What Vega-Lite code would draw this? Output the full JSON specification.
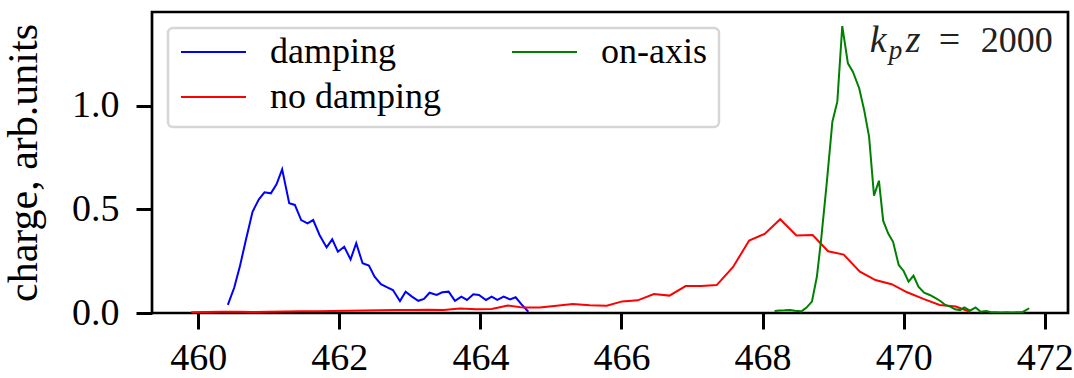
{
  "$schema": "https://vega.github.io/schema/vega-lite/v6.json",
  "width": 916,
  "height": 301,
  "autosize": {"type": "none"},
  "padding": {"left": 152, "top": 12, "right": 6, "bottom": 65},
  "background": "white",
  "config": {
    "view": {"stroke": "black", "strokeWidth": 2.7},
    "font": "Liberation Serif",
    "axis": {
      "domain": false,
      "grid": false,
      "tickColor": "black",
      "tickSize": 16,
      "tickWidth": 3,
      "labelFont": "Liberation Serif",
      "labelFontSize": 38,
      "labelColor": "black",
      "titleFont": "Liberation Serif",
      "titleFontSize": 42,
      "titleFontWeight": "normal",
      "titleColor": "black"
    },
    "legend": {
      "orient": "none",
      "legendX": 16,
      "legendY": 16,
      "columns": 2,
      "symbolType": "stroke",
      "symbolSize": 4225,
      "symbolStrokeWidth": 2,
      "clipHeight": 24,
      "rowPadding": 9,
      "columnPadding": 70,
      "labelFont": "Liberation Serif",
      "labelFontSize": 36,
      "labelColor": "black",
      "labelOffset": 23,
      "labelLimit": 400,
      "padding": 12,
      "fillColor": "white",
      "strokeColor": "#d6d6d6",
      "strokeWidth": 2.5,
      "cornerRadius": 5
    }
  },
  "datasets": {
    "charge": [
      {"series": "damping", "x": 460.42, "y": 0.039},
      {"series": "damping", "x": 460.51, "y": 0.122},
      {"series": "damping", "x": 460.59, "y": 0.224},
      {"series": "damping", "x": 460.67, "y": 0.344},
      {"series": "damping", "x": 460.77, "y": 0.489},
      {"series": "damping", "x": 460.86, "y": 0.549},
      {"series": "damping", "x": 460.94, "y": 0.583},
      {"series": "damping", "x": 461.03, "y": 0.578},
      {"series": "damping", "x": 461.11, "y": 0.622},
      {"series": "damping", "x": 461.19, "y": 0.694},
      {"series": "damping", "x": 461.29, "y": 0.530},
      {"series": "damping", "x": 461.37, "y": 0.522},
      {"series": "damping", "x": 461.46, "y": 0.449},
      {"series": "damping", "x": 461.55, "y": 0.433},
      {"series": "damping", "x": 461.63, "y": 0.449},
      {"series": "damping", "x": 461.72, "y": 0.377},
      {"series": "damping", "x": 461.82, "y": 0.317},
      {"series": "damping", "x": 461.90, "y": 0.356},
      {"series": "damping", "x": 461.98, "y": 0.296},
      {"series": "damping", "x": 462.07, "y": 0.320},
      {"series": "damping", "x": 462.16, "y": 0.259},
      {"series": "damping", "x": 462.24, "y": 0.337},
      {"series": "damping", "x": 462.33, "y": 0.240},
      {"series": "damping", "x": 462.42, "y": 0.229},
      {"series": "damping", "x": 462.50, "y": 0.175},
      {"series": "damping", "x": 462.59, "y": 0.139},
      {"series": "damping", "x": 462.68, "y": 0.124},
      {"series": "damping", "x": 462.76, "y": 0.111},
      {"series": "damping", "x": 462.86, "y": 0.058},
      {"series": "damping", "x": 462.94, "y": 0.103},
      {"series": "damping", "x": 463.03, "y": 0.079},
      {"series": "damping", "x": 463.12, "y": 0.059},
      {"series": "damping", "x": 463.20, "y": 0.068},
      {"series": "damping", "x": 463.28, "y": 0.098},
      {"series": "damping", "x": 463.38, "y": 0.087},
      {"series": "damping", "x": 463.46, "y": 0.100},
      {"series": "damping", "x": 463.55, "y": 0.103},
      {"series": "damping", "x": 463.64, "y": 0.059},
      {"series": "damping", "x": 463.73, "y": 0.079},
      {"series": "damping", "x": 463.81, "y": 0.063},
      {"series": "damping", "x": 463.90, "y": 0.090},
      {"series": "damping", "x": 463.98, "y": 0.087},
      {"series": "damping", "x": 464.08, "y": 0.063},
      {"series": "damping", "x": 464.16, "y": 0.079},
      {"series": "damping", "x": 464.24, "y": 0.063},
      {"series": "damping", "x": 464.33, "y": 0.079},
      {"series": "damping", "x": 464.42, "y": 0.066},
      {"series": "damping", "x": 464.50, "y": 0.076},
      {"series": "damping", "x": 464.58, "y": 0.043},
      {"series": "damping", "x": 464.68, "y": 0.006},

      {"series": "no damping", "x": 459.90, "y": 0.004},
      {"series": "no damping", "x": 460.10, "y": 0.005},
      {"series": "no damping", "x": 460.33, "y": 0.006},
      {"series": "no damping", "x": 460.55, "y": 0.006},
      {"series": "no damping", "x": 460.78, "y": 0.005},
      {"series": "no damping", "x": 461.00, "y": 0.006},
      {"series": "no damping", "x": 461.23, "y": 0.007},
      {"series": "no damping", "x": 461.45, "y": 0.008},
      {"series": "no damping", "x": 461.68, "y": 0.008},
      {"series": "no damping", "x": 461.91, "y": 0.010},
      {"series": "no damping", "x": 462.13, "y": 0.011},
      {"series": "no damping", "x": 462.36, "y": 0.012},
      {"series": "no damping", "x": 462.58, "y": 0.013},
      {"series": "no damping", "x": 462.81, "y": 0.014},
      {"series": "no damping", "x": 463.03, "y": 0.014},
      {"series": "no damping", "x": 463.26, "y": 0.016},
      {"series": "no damping", "x": 463.48, "y": 0.015},
      {"series": "no damping", "x": 463.71, "y": 0.022},
      {"series": "no damping", "x": 463.94, "y": 0.018},
      {"series": "no damping", "x": 464.16, "y": 0.019},
      {"series": "no damping", "x": 464.39, "y": 0.036},
      {"series": "no damping", "x": 464.61, "y": 0.026},
      {"series": "no damping", "x": 464.84, "y": 0.027},
      {"series": "no damping", "x": 465.08, "y": 0.035},
      {"series": "no damping", "x": 465.31, "y": 0.043},
      {"series": "no damping", "x": 465.55, "y": 0.037},
      {"series": "no damping", "x": 465.79, "y": 0.035},
      {"series": "no damping", "x": 466.01, "y": 0.056},
      {"series": "no damping", "x": 466.23, "y": 0.061},
      {"series": "no damping", "x": 466.46, "y": 0.092},
      {"series": "no damping", "x": 466.68, "y": 0.084},
      {"series": "no damping", "x": 466.91, "y": 0.130},
      {"series": "no damping", "x": 467.13, "y": 0.130},
      {"series": "no damping", "x": 467.35, "y": 0.135},
      {"series": "no damping", "x": 467.58, "y": 0.221},
      {"series": "no damping", "x": 467.81, "y": 0.350},
      {"series": "no damping", "x": 468.03, "y": 0.382},
      {"series": "no damping", "x": 468.25, "y": 0.453},
      {"series": "no damping", "x": 468.48, "y": 0.374},
      {"series": "no damping", "x": 468.71, "y": 0.377},
      {"series": "no damping", "x": 468.93, "y": 0.298},
      {"series": "no damping", "x": 469.15, "y": 0.282},
      {"series": "no damping", "x": 469.38, "y": 0.200},
      {"series": "no damping", "x": 469.60, "y": 0.159},
      {"series": "no damping", "x": 469.83, "y": 0.139},
      {"series": "no damping", "x": 470.05, "y": 0.100},
      {"series": "no damping", "x": 470.28, "y": 0.068},
      {"series": "no damping", "x": 470.51, "y": 0.039},
      {"series": "no damping", "x": 470.74, "y": 0.031},
      {"series": "no damping", "x": 470.94, "y": 0.006},

      {"series": "on-axis", "x": 468.17, "y": 0.010},
      {"series": "on-axis", "x": 468.24, "y": 0.012},
      {"series": "on-axis", "x": 468.31, "y": 0.013},
      {"series": "on-axis", "x": 468.39, "y": 0.015},
      {"series": "on-axis", "x": 468.46, "y": 0.011},
      {"series": "on-axis", "x": 468.55, "y": 0.008},
      {"series": "on-axis", "x": 468.62, "y": 0.025},
      {"series": "on-axis", "x": 468.70, "y": 0.055},
      {"series": "on-axis", "x": 468.77, "y": 0.175},
      {"series": "on-axis", "x": 468.83, "y": 0.353},
      {"series": "on-axis", "x": 468.91, "y": 0.627},
      {"series": "on-axis", "x": 468.99, "y": 0.924},
      {"series": "on-axis", "x": 469.06, "y": 1.021},
      {"series": "on-axis", "x": 469.13, "y": 1.386},
      {"series": "on-axis", "x": 469.21, "y": 1.206},
      {"series": "on-axis", "x": 469.28, "y": 1.166},
      {"series": "on-axis", "x": 469.37, "y": 1.086},
      {"series": "on-axis", "x": 469.44, "y": 0.981},
      {"series": "on-axis", "x": 469.51, "y": 0.852},
      {"series": "on-axis", "x": 469.58, "y": 0.567},
      {"series": "on-axis", "x": 469.65, "y": 0.639},
      {"series": "on-axis", "x": 469.71, "y": 0.446},
      {"series": "on-axis", "x": 469.78, "y": 0.385},
      {"series": "on-axis", "x": 469.85, "y": 0.344},
      {"series": "on-axis", "x": 469.93, "y": 0.232},
      {"series": "on-axis", "x": 470.00, "y": 0.203},
      {"series": "on-axis", "x": 470.07, "y": 0.151},
      {"series": "on-axis", "x": 470.14, "y": 0.180},
      {"series": "on-axis", "x": 470.21, "y": 0.127},
      {"series": "on-axis", "x": 470.29, "y": 0.098},
      {"series": "on-axis", "x": 470.37, "y": 0.087},
      {"series": "on-axis", "x": 470.44, "y": 0.074},
      {"series": "on-axis", "x": 470.52, "y": 0.058},
      {"series": "on-axis", "x": 470.59, "y": 0.039},
      {"series": "on-axis", "x": 470.66, "y": 0.031},
      {"series": "on-axis", "x": 470.73, "y": 0.018},
      {"series": "on-axis", "x": 470.80, "y": 0.014},
      {"series": "on-axis", "x": 470.86, "y": 0.027},
      {"series": "on-axis", "x": 470.94, "y": 0.011},
      {"series": "on-axis", "x": 471.02, "y": 0.027},
      {"series": "on-axis", "x": 471.09, "y": 0.006},
      {"series": "on-axis", "x": 471.17, "y": 0.010},
      {"series": "on-axis", "x": 471.24, "y": 0.004},
      {"series": "on-axis", "x": 471.31, "y": 0.004},
      {"series": "on-axis", "x": 471.39, "y": 0.003},
      {"series": "on-axis", "x": 471.46, "y": 0.004},
      {"series": "on-axis", "x": 471.54, "y": 0.003},
      {"series": "on-axis", "x": 471.61, "y": 0.004},
      {"series": "on-axis", "x": 471.69, "y": 0.005},
      {"series": "on-axis", "x": 471.78, "y": 0.023}
    ],
    "note": [{"kpz": 2000}]
  },
  "layer": [
    {
      "data": {"name": "charge"},
      "mark": {"type": "line", "strokeWidth": 2, "clip": true},
      "encoding": {
        "x": {
          "field": "x",
          "type": "quantitative",
          "scale": {"domain": [459.345, 472.33], "nice": false, "zero": false},
          "axis": {"values": [460, 462, 464, 466, 468, 470, 472], "format": "d", "title": null, "labelPadding": 10}
        },
        "y": {
          "field": "y",
          "type": "quantitative",
          "scale": {"domain": [0, 1.454], "nice": false},
          "axis": {"values": [0, 0.5, 1.0], "format": ".1f", "title": "charge, arb.units", "labelPadding": 17, "titlePadding": 26}
        },
        "color": {
          "field": "series",
          "type": "nominal",
          "scale": {"domain": ["damping", "no damping", "on-axis"], "range": ["#0000ff", "#ff0000", "#008000"]},
          "legend": {"title": null}
        }
      }
    },
    {
      "data": {"name": "note"},
      "layer": [
        {
          "mark": {"type": "text", "text": "k", "fontStyle": "italic", "fontSize": 38, "align": "left", "baseline": "alphabetic", "color": "#222222"}
        },
        {
          "mark": {"type": "text", "text": "p", "fontStyle": "italic", "fontSize": 27, "align": "left", "baseline": "alphabetic", "dx": 19, "dy": 7, "color": "#222222"}
        },
        {
          "mark": {"type": "text", "text": "z", "fontStyle": "italic", "fontSize": 38, "align": "left", "baseline": "alphabetic", "dx": 36, "color": "#222222"}
        },
        {
          "mark": {"type": "text", "text": "=", "fontSize": 38, "align": "left", "baseline": "alphabetic", "dx": 69, "color": "#222222"}
        },
        {
          "mark": {"type": "text", "fontSize": 36, "align": "left", "baseline": "alphabetic", "dx": 111, "color": "#222222"},
          "encoding": {"text": {"field": "kpz", "type": "quantitative", "format": "d"}}
        }
      ],
      "encoding": {"x": {"datum": 469.52}, "y": {"datum": 1.262}}
    }
  ]
}
